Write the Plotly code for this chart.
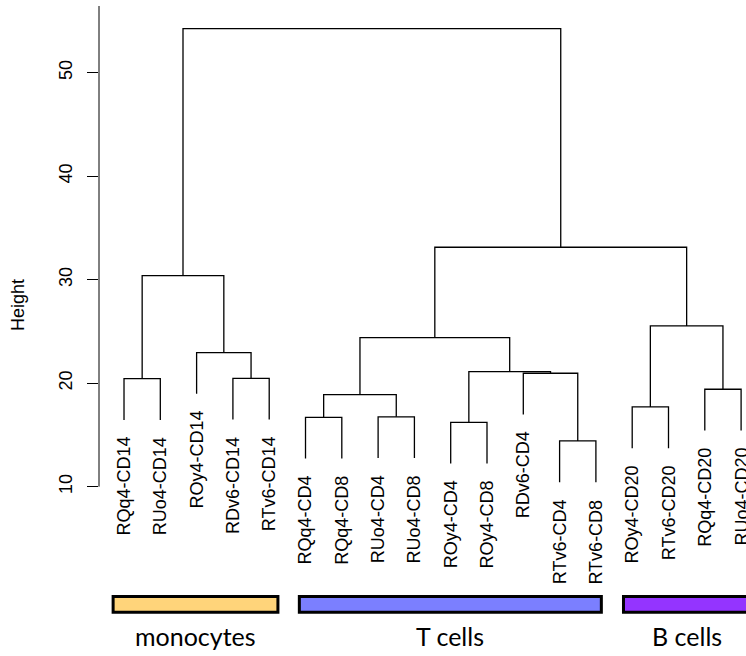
import plotly.graph_objects as go

# ---------------- data ----------------
leaf_labels = ["RQq4-CD14", "RUo4-CD14", "ROy4-CD14", "RDv6-CD14", "RTv6-CD14",
               "RQq4-CD4", "RQq4-CD8", "RUo4-CD4", "RUo4-CD8", "ROy4-CD4", "ROy4-CD8",
               "RDv6-CD4", "RTv6-CD4", "RTv6-CD8",
               "ROy4-CD20", "RTv6-CD20", "RQq4-CD20", "RUo4-CD20"]

# R-style merge matrix: negative = leaf (1-based position in leaf order), positive = earlier merge row
merge_left = [-13, -10, -6, -8, -15, 3, -17, -1, -4, -12, 2, -3, 6, 5, 8, 13, 15]
merge_right = [-14, -11, -7, -9, -16, 4, -18, -2, -5, 1, 10, 9, 11, 7, 12, 14, 16]
merge_height = [14.42, 16.22, 16.70, 16.75, 17.70, 18.89, 19.41, 20.43, 20.47,
                20.96, 21.11, 22.95, 24.40, 25.53, 30.39, 33.13, 54.25]

group_names = ["monocytes", "T cells", "B cells"]
group_start = [0.70, 5.83, 14.76]
group_end = [5.24, 14.15, 18.27]
group_colors = ["#FFD47A", "#7B7FFF", "#9434FF"]

y_ticks = [10, 20, 30, 40, 50]
y_title = "Height"

# ---------------- dendrogram geometry ----------------
hang = 0.1 * (max(merge_height) - min(merge_height))
node_x = {}
xs, ys = [], []
for k, (a, b, h) in enumerate(zip(merge_left, merge_right, merge_height), start=1):
    pts = []
    for c in (a, b):
        if c < 0:
            cx, cy = -c, h - hang
        else:
            cx, cy = node_x[c], merge_height[c - 1]
        pts.append((cx, cy))
    (xa, ya), (xb, yb) = pts
    xs += [xa, xa, xb, xb, None]
    ys += [ya, h, h, yb, None]
    node_x[k] = (xa + xb) / 2

leaf_bottom = {}
for a, b, h in zip(merge_left, merge_right, merge_height):
    for c in (a, b):
        if c < 0:
            leaf_bottom[-c] = h - hang

fig = go.Figure()
fig.add_trace(go.Scatter(x=xs, y=ys, mode="lines",
                         line=dict(color="black", width=1.3),
                         hoverinfo="skip", showlegend=False))

label_font = dict(family="Liberation Sans, Arial, sans-serif", size=18, color="black")

# leaf labels
for i, lab in enumerate(leaf_labels, start=1):
    fig.add_annotation(x=i, y=leaf_bottom[i], text=lab, textangle=-90,
                       xanchor="center", yanchor="top", yshift=-15,
                       showarrow=False, font=label_font)

# group bars and names
for name, s, e, col in zip(group_names, group_start, group_end, group_colors):
    fig.add_shape(type="rect", xref="x", yref="y", x0=s, x1=e, y0=-2.14, y1=-0.60,
                  fillcolor=col, line=dict(color="black", width=3))
    fig.add_annotation(x=(s + e) / 2, y=-4.45, text=name, showarrow=False,
                       xanchor="center", yanchor="middle",
                       font=dict(family="Lato, Open Sans, sans-serif", size=25, color="black"))

# y axis line (from lowest tick upward)
fig.add_shape(type="line", xref="paper", yref="y", x0=0, x1=0, y0=10, y1=56.44,
              line=dict(color="black", width=1))

# y axis title
fig.add_annotation(xref="paper", yref="y", x=0, y=27.55, xshift=-81, text=y_title,
                   textangle=-90, showarrow=False, xanchor="center", yanchor="middle",
                   font=label_font)

fig.update_layout(
    width=746, height=656,
    margin=dict(l=99, r=0, t=0, b=0),
    plot_bgcolor="white", paper_bgcolor="white",
    xaxis=dict(range=[0.311, 18.135], visible=False, showgrid=False, zeroline=False),
    yaxis=dict(range=[-6.36, 57.02], showgrid=False, zeroline=False, showline=False,
               tickvals=y_ticks, ticktext=[str(v) for v in y_ticks],
               ticks="outside", ticklen=11, tickwidth=1, tickcolor="black",
               tickangle=-90, ticklabelstandoff=8, tickfont=label_font),
)

fig.write_html("out.html", config={"displayModeBar": False},
               post_script="document.body.style.margin='0';document.body.style.overflow='hidden';")
